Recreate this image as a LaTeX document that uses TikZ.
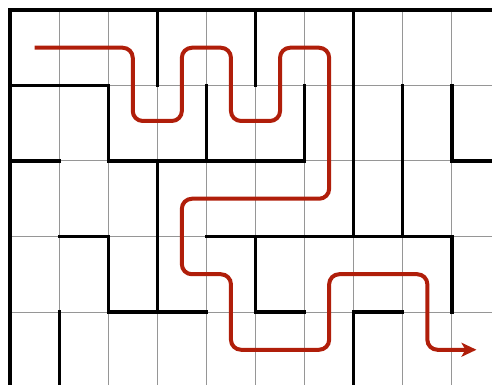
\documentclass[tikz,border=0pt]{standalone}
\usepackage{tikz}
\usetikzlibrary{arrows.meta}
\definecolor{gridgray}{RGB}{150,150,150}
\definecolor{wallink}{RGB}{0,0,0}
\definecolor{route}{RGB}{176,30,10}

\begin{document}
\begin{tikzpicture}[
  x=24.55pt, y=-37.75pt,
  cell/.style={draw=gridgray, line width=0.5pt},
  wall/.style={draw=wallink, line width=1.6pt, line cap=rect, line join=miter},
  solve/.style={draw=route, line width=2pt, rounded corners=5pt,
                -{Stealth[length=7.5pt, width=7pt, inset=2pt]}},
]

% ---- frame ----
\useasboundingbox (-0.2037,-0.1325) rectangle (9.8167,4.9669);

% ---- cell grid ----
\foreach \i in {1,...,10} \draw[cell] (\i,0) -- (\i,5.2);
\foreach \j in {1,...,5} \draw[cell] (0,\j) -- (10.2,\j);

% ---- outer border ----
\draw[wall] (10.2,0) -- (0,0) -- (0,5.2);

% ---- inner walls ----
\draw[wall] (3,0) -- (3,1);
\draw[wall] (5,0) -- (5,1);
\draw[wall] (7,0) -- (7,3);
\draw[wall] (0,1) -- (2,1) -- (2,2) -- (6,2) -- (6,1);
\draw[wall] (4,1) -- (4,2);
\draw[wall] (8,1) -- (8,3);
\draw[wall] (9,1) -- (9,2) -- (10.2,2);
\draw[wall] (0,2) -- (1,2);
\draw[wall] (3,2) -- (3,4);
\draw[wall] (1,3) -- (2,3) -- (2,4) -- (4,4);
\draw[wall] (4,3) -- (9,3) -- (9,4);
\draw[wall] (5,3) -- (5,4) -- (6,4);
\draw[wall] (7,5.2) -- (7,4) -- (8,4);
\draw[wall] (1,4) -- (1,5.2);

% ---- the way through ----
\coordinate (start) at (0.5,0.5);
\coordinate (goal) at (9.5,4.5);
\draw[solve] (start) -- (2.5,0.5) -- (2.5,1.47) -- (3.5,1.47) -- (3.5,0.5)
   -- (4.5,0.5) -- (4.5,1.47) -- (5.5,1.47) -- (5.5,0.5) -- (6.5,0.5)
   -- (6.5,2.5) -- (3.5,2.5) -- (3.5,3.5) -- (4.5,3.5) -- (4.5,4.5)
   -- (6.5,4.5) -- (6.5,3.5) -- (8.5,3.5) -- (8.5,4.5) -- (goal);

\end{tikzpicture}
\end{document}
